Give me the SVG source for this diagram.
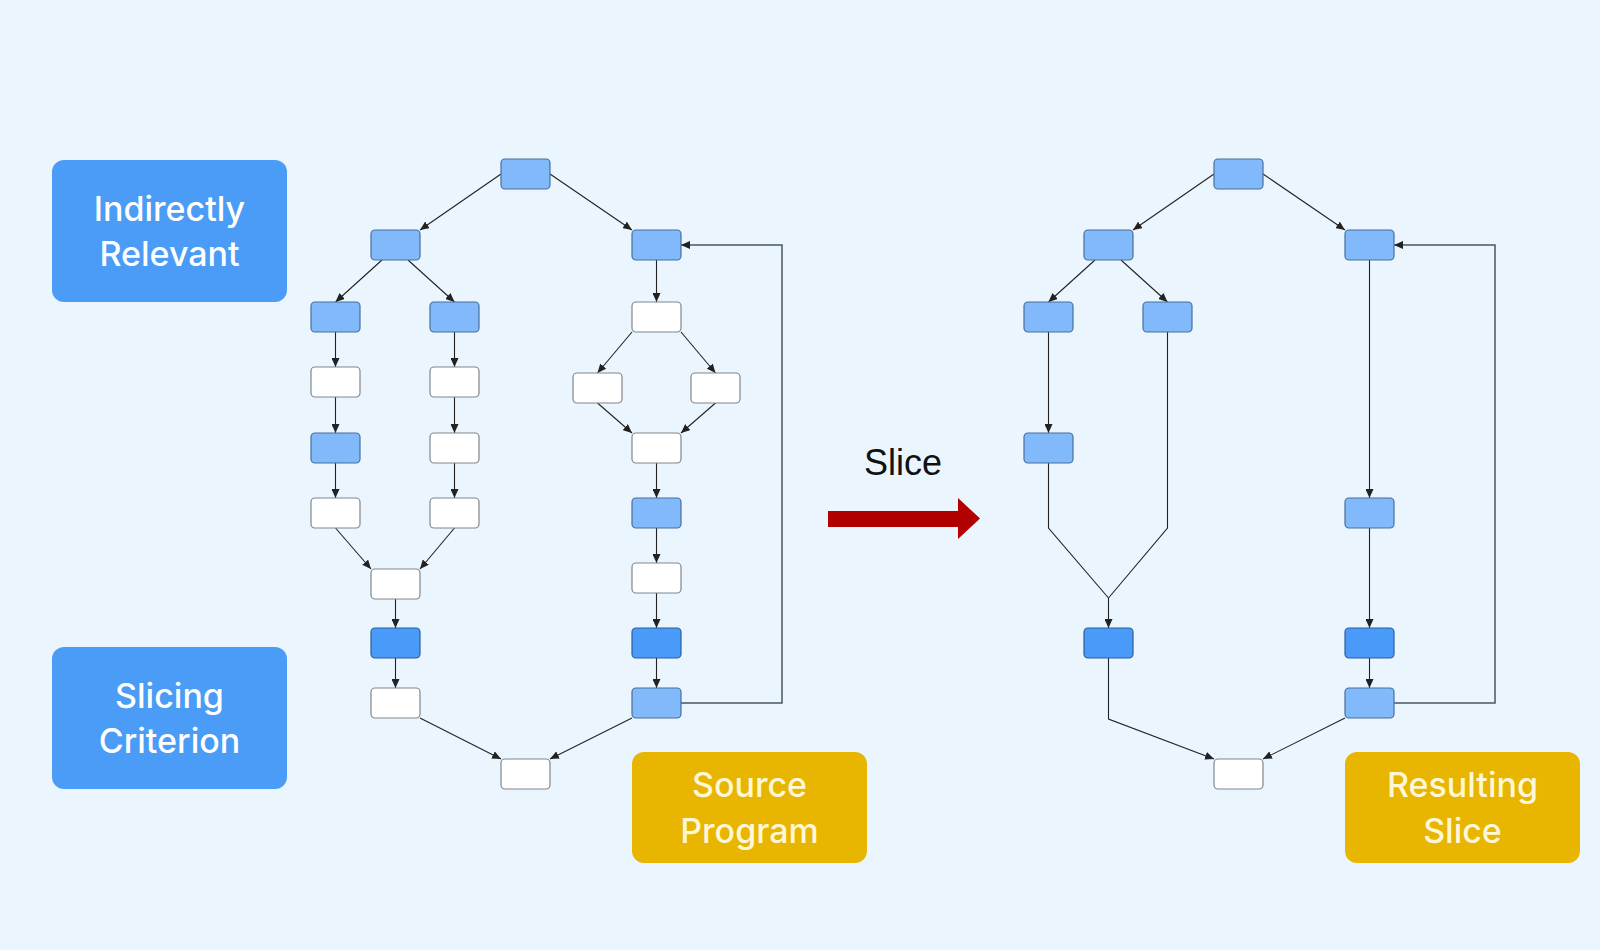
<svg xmlns="http://www.w3.org/2000/svg" width="1600" height="950" viewBox="0 0 1600 950">
<defs>
<marker id="ah" markerUnits="userSpaceOnUse" markerWidth="9" markerHeight="8" refX="9" refY="4" orient="auto">
<path d="M0,0 L9,4 L0,8 z" fill="#222"/>
</marker>
<style>
.n rect{stroke-width:1.2}
.lb{fill:#82b9fb;stroke:#46709f}
.db{fill:#4a9bf9;stroke:#2a5f9f}
.w{fill:#ffffff;stroke:#80868d}
.e path{fill:none;stroke:#222;stroke-width:1.1}
.e .a{marker-end:url(#ah)}
.e .loop{stroke:#4a5560;stroke-width:1.5}
.lbl{font-family:Inter,"Liberation Sans",sans-serif;font-size:34px;font-weight:500;text-anchor:middle}
.blue{fill:#4a9cf6}
.gold{fill:#e8b500}
</style>
</defs>
<rect width="1600" height="950" fill="#eaf5fd"/>

<g id="label-indirect">
<rect class="blue" x="52" y="160" width="235" height="142" rx="12"/>
<text class="lbl" x="169.5" y="221" fill="#ffffff">Indirectly</text>
<text class="lbl" x="169.5" y="266" fill="#ffffff">Relevant</text>
</g>
<g id="label-criterion">
<rect class="blue" x="52" y="647" width="235" height="142" rx="12"/>
<text class="lbl" x="169.5" y="708" fill="#ffffff">Slicing</text>
<text class="lbl" x="169.5" y="753" fill="#ffffff">Criterion</text>
</g>
<g id="label-source">
<rect class="gold" x="632" y="752" width="235" height="111" rx="12"/>
<text class="lbl" x="749.5" y="797" fill="#fff7d6">Source</text>
<text class="lbl" x="749.5" y="843" fill="#fff7d6">Program</text>
</g>
<g id="label-result">
<rect class="gold" x="1345" y="752" width="235" height="111" rx="12"/>
<text class="lbl" x="1462.5" y="797" fill="#fff7d6">Resulting</text>
<text class="lbl" x="1462.5" y="843" fill="#fff7d6">Slice</text>
</g>

<g id="slice-arrow">
<text x="903" y="475" font-family="'Liberation Sans',Arial,sans-serif" font-size="36" text-anchor="middle" fill="#111">Slice</text>
<polygon points="828,511 958,511 958,498 980,518.5 958,539 958,527 828,527" fill="#b00000"/>
</g>

<g id="connectors" class="e">
<path class="a" d="M501,174 L420,230"/>
<path class="a" d="M550,174 L632,230"/>
<path class="a" d="M382,260 L335.5,302"/>
<path class="a" d="M408,260 L454.5,302"/>
<path class="a" d="M335.5,332 V367"/>
<path class="a" d="M454.5,332 V367"/>
<path class="a" d="M335.5,397 V433"/>
<path class="a" d="M454.5,397 V433"/>
<path class="a" d="M335.5,463 V498"/>
<path class="a" d="M454.5,463 V498"/>
<path class="a" d="M335.5,528 L371,569"/>
<path class="a" d="M454.5,528 L420,569"/>
<path class="a" d="M395.5,599 V628"/>
<path class="a" d="M395.5,658 V688"/>
<path class="a" d="M420,718 L501,759"/>
<path class="a" d="M656.5,260 V302"/>
<path class="a" d="M632,332 L597.5,373"/>
<path class="a" d="M681,332 L715.5,373"/>
<path class="a" d="M597.5,403 L632,433"/>
<path class="a" d="M715.5,403 L681,433"/>
<path class="a" d="M656.5,463 V498"/>
<path class="a" d="M656.5,528 V563"/>
<path class="a" d="M656.5,593 V628"/>
<path class="a" d="M656.5,658 V688"/>
<path class="a" d="M632,718 L550,759"/>
<path class="a loop" d="M681,703 H782 V245 H681"/>

<path class="a" d="M1214,174 L1133,230"/>
<path class="a" d="M1263,174 L1345,230"/>
<path class="a" d="M1095,260 L1048.5,302"/>
<path class="a" d="M1121,260 L1167.5,302"/>
<path class="a" d="M1048.5,332 V433"/>
<path d="M1048.5,463 V528 L1108.5,598"/>
<path d="M1167.5,332 V528 L1108.5,598"/>
<path class="a" d="M1108.5,598 V628"/>
<path class="a" d="M1108.5,658 V719 L1214,759"/>
<path class="a" d="M1369.5,260 V498"/>
<path class="a" d="M1369.5,528 V628"/>
<path class="a" d="M1369.5,658 V688"/>
<path class="a" d="M1345,718 L1263,759"/>
<path class="a loop" d="M1394,703 H1495 V245 H1394"/>
</g>

<g id="n1" class="n"><rect class="lb" x="501" y="159" width="49" height="30" rx="4"/></g>
<g id="n2" class="n"><rect class="lb" x="371" y="230" width="49" height="30" rx="4"/></g>
<g id="n3" class="n"><rect class="lb" x="632" y="230" width="49" height="30" rx="4"/></g>
<g id="n4" class="n"><rect class="lb" x="311" y="302" width="49" height="30" rx="4"/></g>
<g id="n5" class="n"><rect class="lb" x="430" y="302" width="49" height="30" rx="4"/></g>
<g id="n6" class="n"><rect class="w" x="632" y="302" width="49" height="30" rx="4"/></g>
<g id="n7" class="n"><rect class="w" x="311" y="367" width="49" height="30" rx="4"/></g>
<g id="n8" class="n"><rect class="w" x="430" y="367" width="49" height="30" rx="4"/></g>
<g id="n9" class="n"><rect class="w" x="573" y="373" width="49" height="30" rx="4"/></g>
<g id="n10" class="n"><rect class="w" x="691" y="373" width="49" height="30" rx="4"/></g>
<g id="n11" class="n"><rect class="lb" x="311" y="433" width="49" height="30" rx="4"/></g>
<g id="n12" class="n"><rect class="w" x="430" y="433" width="49" height="30" rx="4"/></g>
<g id="n13" class="n"><rect class="w" x="632" y="433" width="49" height="30" rx="4"/></g>
<g id="n14" class="n"><rect class="w" x="311" y="498" width="49" height="30" rx="4"/></g>
<g id="n15" class="n"><rect class="w" x="430" y="498" width="49" height="30" rx="4"/></g>
<g id="n16" class="n"><rect class="lb" x="632" y="498" width="49" height="30" rx="4"/></g>
<g id="n17" class="n"><rect class="w" x="371" y="569" width="49" height="30" rx="4"/></g>
<g id="n18" class="n"><rect class="w" x="632" y="563" width="49" height="30" rx="4"/></g>
<g id="n19" class="n"><rect class="db" x="371" y="628" width="49" height="30" rx="4"/></g>
<g id="n20" class="n"><rect class="db" x="632" y="628" width="49" height="30" rx="4"/></g>
<g id="n21" class="n"><rect class="w" x="371" y="688" width="49" height="30" rx="4"/></g>
<g id="n22" class="n"><rect class="lb" x="632" y="688" width="49" height="30" rx="4"/></g>
<g id="n23" class="n"><rect class="w" x="501" y="759" width="49" height="30" rx="4"/></g>

<g id="s1" class="n"><rect class="lb" x="1214" y="159" width="49" height="30" rx="4"/></g>
<g id="s2" class="n"><rect class="lb" x="1084" y="230" width="49" height="30" rx="4"/></g>
<g id="s3" class="n"><rect class="lb" x="1345" y="230" width="49" height="30" rx="4"/></g>
<g id="s4" class="n"><rect class="lb" x="1024" y="302" width="49" height="30" rx="4"/></g>
<g id="s5" class="n"><rect class="lb" x="1143" y="302" width="49" height="30" rx="4"/></g>
<g id="s6" class="n"><rect class="lb" x="1024" y="433" width="49" height="30" rx="4"/></g>
<g id="s7" class="n"><rect class="lb" x="1345" y="498" width="49" height="30" rx="4"/></g>
<g id="s8" class="n"><rect class="db" x="1084" y="628" width="49" height="30" rx="4"/></g>
<g id="s9" class="n"><rect class="db" x="1345" y="628" width="49" height="30" rx="4"/></g>
<g id="s10" class="n"><rect class="lb" x="1345" y="688" width="49" height="30" rx="4"/></g>
<g id="s11" class="n"><rect class="w" x="1214" y="759" width="49" height="30" rx="4"/></g>
</svg>
